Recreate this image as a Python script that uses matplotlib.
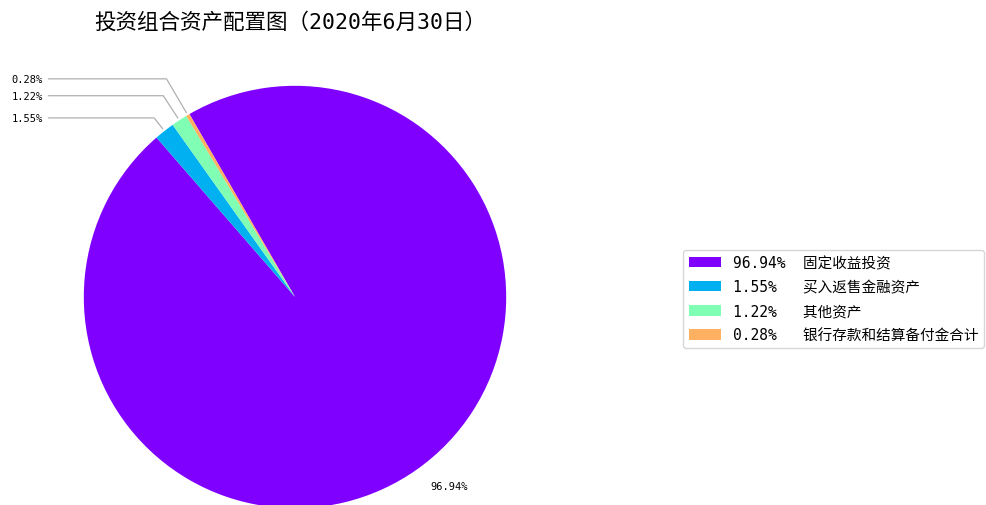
import numpy as np
import matplotlib
matplotlib.use('Agg')
import matplotlib.pyplot as plt

plt.rcParams['font.family'] = ['DejaVu Sans Mono', 'Noto Sans CJK SC']

names = ['固定收益投资', '买入返售金融资产', '其他资产', '银行存款和结算备付金合计']
pcts = [96.94, 1.55, 1.22, 0.28]
colors = ['#8000ff', '#00b0f0', '#80ffb4', '#ffb060']
title = '投资组合资产配置图（2020年6月30日）'

fig = plt.figure(figsize=(9.86, 5.06), dpi=100)
ax = fig.add_axes([31/986, -56/506, 528/986, 528/506])

pie_labels = [f'{pcts[0]:.2f}%', '', '', '']
wedges, texts = ax.pie(pcts, colors=colors, startangle=120, counterclock=False,
                       labels=pie_labels, labeldistance=1.1,
                       textprops={'fontsize': 7.5})
ax.set_xlim(-1.25, 1.25)
ax.set_ylim(-1.25, 1.25)

# small slices get labels pulled out to the left with leader lines
label_y = [None, 0.848, 0.953, 1.033]
for i in range(1, len(pcts)):
    w = wedges[i]
    ang = (w.theta1 + w.theta2) / 2
    x = np.cos(np.deg2rad(ang))
    y = np.sin(np.deg2rad(ang))
    ax.annotate(f'{pcts[i]:.2f}%', xy=(x, y), xytext=(-1.194, label_y[i]),
                ha='right', va='center', fontsize=7.5,
                arrowprops=dict(arrowstyle='-', color='#b0b0b0', lw=0.9,
                                connectionstyle=f'angle,angleA=0,angleB={ang}'))

leg_labels = [f'{p:.2f}%'.ljust(8) + n for p, n in zip(pcts, names)]
fig.legend(wedges, leg_labels, loc='center left',
           bbox_to_anchor=(683/986, 206/506), borderaxespad=0,
           fontsize=10.5, handlelength=2.2, handleheight=0.7, labelspacing=0.62)

fig.text(290/986, 1 - 22/506, title, ha='center', va='center', fontsize=15.5)

fig.savefig('out.png', dpi=100)
